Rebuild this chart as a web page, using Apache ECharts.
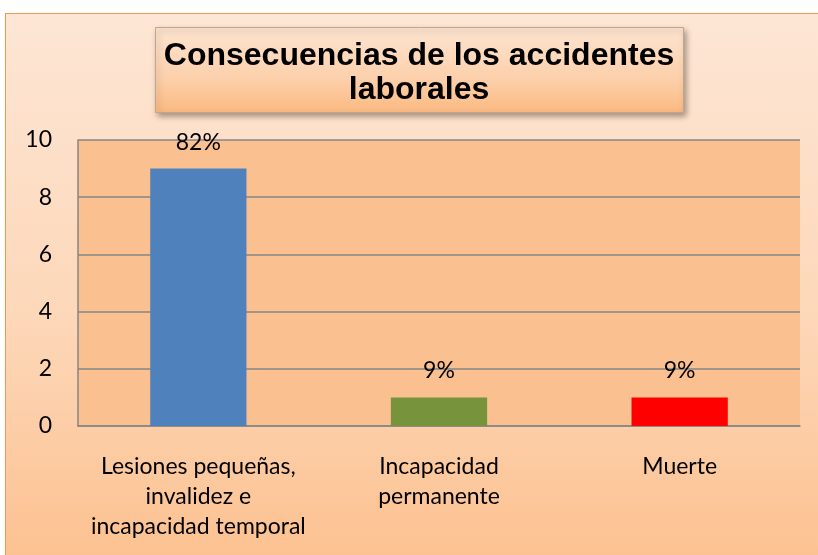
<!DOCTYPE html>
<html>
<head>
<meta charset="utf-8">
<script src="https://cdn.jsdelivr.net/npm/echarts@6/dist/echarts.min.js"></script>
<style>
  html, body { margin: 0; padding: 0; background: #ffffff; }
  #bg {
    position: absolute; left: 5px; top: 13px; width: 830px; height: 560px;
    border: 1px solid #f79646;
    background: linear-gradient(to bottom, #fde6d5 0%, #fdd7b8 55%, #fcc08e 100%);
  }
  #chart { position: absolute; left: 0; top: 0; width: 818px; height: 555px; }
</style>
</head>
<body>
<div id="bg"></div>
<div id="chart"></div>
<script>
const titleLines = ['Consecuencias de los accidentes', 'laborales']
const categories = ['Lesiones pequeñas,\ninvalidez e\nincapacidad temporal', 'Incapacidad\npermanente', 'Muerte']
const values = [9, 1, 1]
const pctLabels = ['82%', '9%', '9%']
const barColors = ['#4f81bd', '#77933c', '#ff0000']

const chart = echarts.init(document.getElementById('chart'))

const labelFont = 'Lato, "Open Sans", sans-serif'

const option = {
  backgroundColor: 'transparent',
  animation: false,
  grid: {
    left: 78,
    right: 18,
    top: 140,
    bottom: 129,
    show: true,
    backgroundColor: '#fac090',
    borderWidth: 0
  },
  xAxis: {
    type: 'category',
    data: categories,
    axisTick: { show: false },
    axisLine: { lineStyle: { color: '#868686', width: 1.5 } },
    axisLabel: {
      color: '#000',
      fontFamily: labelFont,
      fontSize: 23,
      lineHeight: 30,
      margin: 26,
      interval: 0
    }
  },
  yAxis: {
    type: 'value',
    min: 0,
    max: 10,
    interval: 2,
    axisLine: { show: true, lineStyle: { color: '#868686', width: 1.5 } },
    axisTick: { show: false },
    axisLabel: {
      color: '#000',
      fontFamily: labelFont,
      fontSize: 23,
      margin: 26
    },
    splitLine: { lineStyle: { color: '#868686', width: 1.5 } }
  },
  series: [
    {
      type: 'bar',
      barWidth: '40%',
      data: values.map((v, i) => ({
        value: v,
        itemStyle: { color: barColors[i] },
        label: { formatter: pctLabels[i] }
      })),
      label: {
        show: true,
        position: 'top',
        distance: 15,
        color: '#000',
        fontFamily: labelFont,
        fontSize: 23
      }
    }
  ],
  graphic: [
    {
      type: 'rect',
      left: 155,
      top: 27,
      shape: { width: 528, height: 85 },
      style: {
        fill: new echarts.graphic.LinearGradient(0, 0, 0, 1, [
          { offset: 0, color: '#fde4d0' },
          { offset: 0.6, color: '#fcd0ab' },
          { offset: 1, color: '#fbb980' }
        ]),
        stroke: '#c4a58a',
        lineWidth: 1,
        shadowBlur: 6,
        shadowColor: 'rgba(0,0,0,0.35)',
        shadowOffsetX: 2,
        shadowOffsetY: 3
      }
    },
    {
      type: 'text',
      x: 419,
      y: 56,
      style: {
        text: titleLines[0],
        fill: '#000',
        font: 'bold 32px "Liberation Sans", Arial, sans-serif',
        textAlign: 'center',
        textVerticalAlign: 'middle'
      }
    },
    {
      type: 'text',
      x: 419,
      y: 90,
      style: {
        text: titleLines[1],
        fill: '#000',
        font: 'bold 32px "Liberation Sans", Arial, sans-serif',
        textAlign: 'center',
        textVerticalAlign: 'middle'
      }
    }
  ]
}

chart.setOption(option)
window.addEventListener('resize', () => chart.resize())
</script>
</body>
</html>
